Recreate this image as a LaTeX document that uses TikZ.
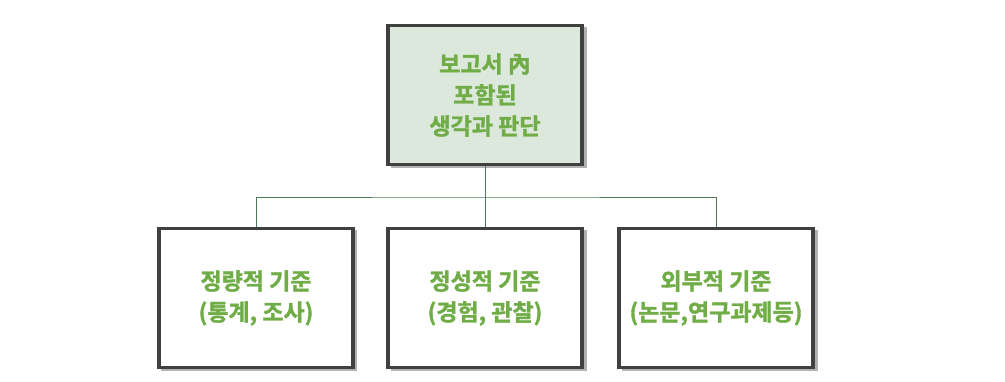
\documentclass[tikz,border=0pt]{standalone}
\usepackage{fontspec}
\newfontfamily\kr[FakeBold=1.5]{Noto Sans CJK KR Bold}
\definecolor{boxline}{HTML}{404040}
\definecolor{txtgreen}{HTML}{70AD47}
\definecolor{topfill}{HTML}{DDE8DC}
\definecolor{conn}{HTML}{4E7A56}
\begin{document}
\begin{tikzpicture}[x=1pt,y=-1pt,
  box/.style={draw=boxline,line width=3.5pt,minimum width=194pt,minimum height=139pt,
    inner sep=0pt,align=center,font=\kr\fontsize{23}{31}\selectfont,text=txtgreen,
    fill=white},
  shadowbox/.style={fill=black!30,minimum width=196pt,minimum height=141pt,inner sep=0pt},
  link/.style={draw=conn,line width=0.9pt}]
\useasboundingbox (0,0) rectangle (1005,382);
\fill[white] (0,0) rectangle (1005,382);
% shadows
\node[shadowbox] at (488.5,97.5) {};
\node[shadowbox] at (258.5,300.5) {};
\node[shadowbox] at (488.5,300.5) {};
\node[shadowbox] at (719.5,300.5) {};
% boxes
\node[box,fill=topfill] (top) at (485,95) {보고서 內\\포함된\\생각과 판단};
\node[box] (b1) at (256,298) {정량적 기준\\(통계, 조사)};
\node[box] (b2) at (485,298) {정성적 기준\\(경험, 관찰)};
\node[box] (b3) at (716,298) {외부적 기준\\(논문,연구과제등)};
\coordinate (mid) at (485,197);
\draw[link] (top.south) -- (mid);
\draw[link] (b1.north) |- (mid) -| (b3.north);
\draw[link] (mid) -- (b2.north);
\end{tikzpicture}
\end{document}
